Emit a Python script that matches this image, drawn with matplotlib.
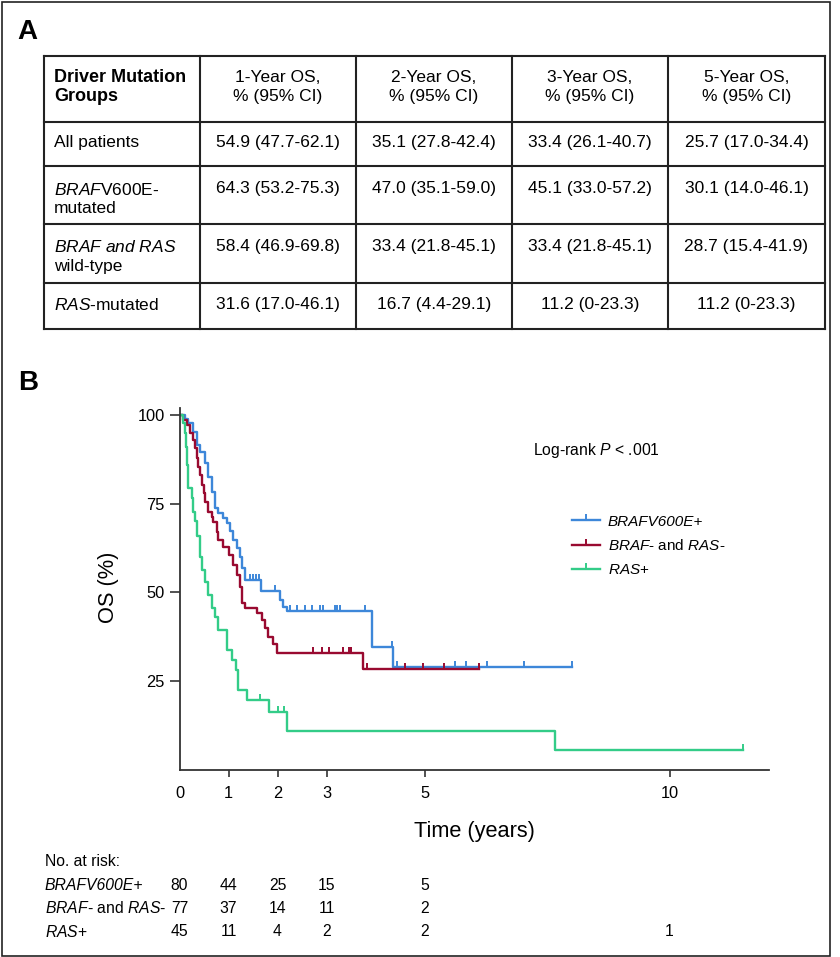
import numpy as np
import matplotlib
matplotlib.use('Agg')
import matplotlib.pyplot as plt
from matplotlib.lines import Line2D
from matplotlib.patches import Rectangle
from matplotlib import transforms

plt.rcParams['font.family'] = ['Liberation Sans', 'DejaVu Sans']
plt.rcParams['mathtext.fontset'] = 'custom'
plt.rcParams['mathtext.rm'] = 'Liberation Sans'
plt.rcParams['mathtext.it'] = 'Liberation Sans:italic'
plt.rcParams['mathtext.bf'] = 'Liberation Sans:bold'

# ---- panel A: table ----
header_first = 'Driver Mutation\nGroups'
col_headers = ['1-Year OS,\n% (95% CI)', '2-Year OS,\n% (95% CI)',
               '3-Year OS,\n% (95% CI)', '5-Year OS,\n% (95% CI)']
row_labels = ['All patients',
              '$\\mathit{BRAF}$V600E-\nmutated',
              '$\\mathit{BRAF\\ and\\ RAS}$\nwild-type',
              '$\\mathit{RAS}$-mutated']
table_values = [
    ['54.9 (47.7-62.1)', '35.1 (27.8-42.4)', '33.4 (26.1-40.7)', '25.7 (17.0-34.4)'],
    ['64.3 (53.2-75.3)', '47.0 (35.1-59.0)', '45.1 (33.0-57.2)', '30.1 (14.0-46.1)'],
    ['58.4 (46.9-69.8)', '33.4 (21.8-45.1)', '33.4 (21.8-45.1)', '28.7 (15.4-41.9)'],
    ['31.6 (17.0-46.1)', '16.7 (4.4-29.1)', '11.2 (0-23.3)', '11.2 (0-23.3)'],
]

# ---- panel B: Kaplan-Meier curves (time in years, OS in %) ----
braf_t = [0, 0.11, 0.18, 0.28, 0.35, 0.42, 0.52, 0.59, 0.66, 0.72, 0.79, 0.89,
          0.96, 1.03, 1.10, 1.17, 1.23, 1.27, 1.34, 1.66, 2.05, 2.12, 2.19, 3.92, 4.36]
braf_s = [100, 99.0, 97.8, 95.4, 91.7, 89.8, 86.5, 82.7, 78.5, 73.8, 72.4, 71.0,
          69.5, 67.5, 64.8, 62.5, 60.1, 56.8, 53.5, 50.5, 47.9, 46.0, 44.8, 34.5, 29.0]
braf_end = 8.0
braf_cens = [1.44, 1.50, 1.56, 1.62, 1.95, 2.26, 2.39, 2.56, 2.70, 2.87, 2.92,
             3.17, 3.22, 3.28, 3.79, 4.33, 4.43, 5.62, 5.85, 6.27, 7.03, 8.0]

wt_t = [0, 0.08, 0.15, 0.21, 0.28, 0.32, 0.35, 0.38, 0.42, 0.45, 0.49, 0.52, 0.59,
        0.66, 0.69, 0.76, 0.79, 0.89, 1.00, 1.10, 1.17, 1.23, 1.27, 1.34, 1.58,
        1.68, 1.74, 1.81, 1.91, 1.98, 3.74]
wt_s = [100, 98.7, 97.4, 95.0, 93.1, 90.7, 87.9, 85.5, 83.2, 80.4, 78.0, 75.6, 72.8,
        71.4, 70.0, 67.2, 64.8, 62.9, 60.6, 57.8, 54.9, 51.6, 46.9, 45.5, 44.1,
        42.2, 39.9, 37.4, 35.4, 33.0, 28.3]
wt_end = 6.11
wt_cens = [2.73, 2.90, 3.06, 3.33, 3.45, 3.49, 3.51, 3.83, 4.60, 4.96, 5.40, 6.11]

ras_t = [0, 0.08, 0.11, 0.13, 0.15, 0.18, 0.25, 0.28, 0.32, 0.35, 0.42, 0.45, 0.52,
         0.59, 0.66, 0.72, 0.79, 0.96, 1.07, 1.15, 1.20, 1.38, 1.83, 2.19, 7.66]
ras_s = [100, 97.8, 95.0, 91.0, 86.0, 79.5, 76.6, 72.8, 70.2, 66.0, 60.1, 56.4, 53.1,
         49.3, 45.5, 43.0, 39.5, 33.8, 30.9, 28.1, 22.5, 19.6, 16.3, 11.0, 5.4]
ras_end = 11.49
ras_cens = [1.64, 2.02, 2.13, 11.49]

group_names = ['BRAFV600E+', '$\\mathit{BRAF}$- and $\\mathit{RAS}$-', '$\\mathit{RAS}$+']
group_italic = [True, False, False]
group_colors = ['#3d87d9', '#990a30', '#33cc88']

risk_times = [0, 1, 2, 3, 5, 10]
risk_braf = [80, 44, 25, 15, 5, None]
risk_wt = [77, 37, 14, 11, 2, None]
risk_ras = [45, 11, 4, 2, 2, 1]

W, H = 840, 957
fig = plt.figure(figsize=(W / 100, H / 100), dpi=100)

# background axes in pixel coordinates for table, border and labels
bg = fig.add_axes([0, 0, 1, 1], zorder=0)
bg.set_xlim(0, W)
bg.set_ylim(H, 0)
bg.axis('off')

bg.add_patch(Rectangle((1.5, 1.5), 828, 954, fill=False, ec='#222222', lw=1.2))
bg.text(17, 32, 'A', fontsize=20, fontweight='bold', va='center', ha='left')
bg.text(18, 383, 'B', fontsize=20, fontweight='bold', va='center', ha='left')

col_x = [44, 200, 356, 512, 668, 825]
row_y = [55.7, 122.3, 166, 224.3, 283.3, 329.3]
for y in row_y:
    bg.plot([col_x[0], col_x[-1]], [y, y], color='#222222', lw=1.5, solid_capstyle='projecting')
for x in col_x:
    bg.plot([x, x], [row_y[0], row_y[-1]], color='#222222', lw=1.5, solid_capstyle='projecting')

fs_tab = 12.5
bg.text(54, 87, header_first, fontsize=13, fontweight='bold', ha='left', va='center',
        linespacing=1.22)
for j, h in enumerate(col_headers):
    bg.text((col_x[j + 1] + col_x[j + 2]) / 2, 87, h, fontsize=fs_tab, ha='center',
            va='center', linespacing=1.25)

first_line_y = [142, 188.5, 246, 305]
for i, lab in enumerate(row_labels):
    nlines = lab.count('\n') + 1
    yc = first_line_y[i] + (nlines - 1) * 10.5
    bg.text(54, yc, lab, fontsize=fs_tab, ha='left', va='center', linespacing=1.25)
    for j, v in enumerate(table_values[i]):
        bg.text((col_x[j + 1] + col_x[j + 2]) / 2, first_line_y[i], v, fontsize=fs_tab,
                ha='center', va='center')

# ---- KM plot ----
ax = fig.add_axes([179.5 / W, (H - 769.5) / H, 589.5 / W, 361.1 / H], zorder=1)
ax.patch.set_alpha(0)

curves = [(braf_t, braf_s, braf_end, braf_cens),
          (wt_t, wt_s, wt_end, wt_cens),
          (ras_t, ras_s, ras_end, ras_cens)]
for (t, s, end, cens), col in zip(curves, group_colors):
    tt = np.array(t + [end])
    ss = np.array(s + [s[-1]])
    ax.step(tt, ss, where='post', color=col, lw=1.7)
    cy = [s[np.searchsorted(t, c, side='right') - 1] for c in cens]
    ax.plot(cens, cy, linestyle='none', marker=2, ms=4.5, mew=1.4, color=col)

ax.set_xlim(0, 12.03)
ax.set_ylim(0, 102)
ax.set_xticks([0, 1, 2, 3, 5, 10])
ax.set_yticks([25, 50, 75, 100])
for sp in ['top', 'right']:
    ax.spines[sp].set_visible(False)
for sp in ['left', 'bottom']:
    ax.spines[sp].set_color('#333333')
    ax.spines[sp].set_linewidth(1.3)
ax.tick_params(axis='y', length=7, width=1.2, color='#333333', pad=3.5, labelsize=11.8)
ax.tick_params(axis='x', length=5, width=1.2, color='#333333', pad=7, labelsize=11.8)
ax.xaxis.get_major_ticks()[0].tick1line.set_visible(False)

ax.set_xlabel('Time (years)', fontsize=15.7)
ax.xaxis.set_label_coords(0.5, -0.172)
ax.xaxis.label.set_va('center')
ax.set_ylabel('OS (%)', fontsize=15.7)
ax.yaxis.set_label_coords(-0.121, 0.505)
ax.yaxis.label.set_va('center')

bg.text(533, 450, 'Log-rank $\\mathit{P}$ < .001', fontsize=11.3, ha='left', va='center')

handles = [Line2D([], [], color=c, lw=1.7, marker=2, ms=4.5, mew=1.4) for c in group_colors]
leg = fig.legend(handles, group_names, loc='upper left', bbox_to_anchor=(572 / W, 1 - 514.5 / H),
                 bbox_transform=fig.transFigure, frameon=False, fontsize=11, numpoints=1,
                 handlelength=1.8, handletextpad=0.55, labelspacing=0.65, borderpad=0,
                 borderaxespad=0)
for txt, it in zip(leg.get_texts(), group_italic):
    if it:
        txt.set_style('italic')

# ---- number at risk ----
risk_tr = transforms.blended_transform_factory(ax.transData, bg.transData)
bg.text(45, 862, 'No. at risk:', fontsize=11.3, ha='left', va='center')
risk_rows = [risk_braf, risk_wt, risk_ras]
risk_y = [885, 908.3, 931.7]
for name, it, counts, y in zip(group_names, group_italic, risk_rows, risk_y):
    bg.text(45, y, name, fontsize=11.3, ha='left', va='center',
            style='italic' if it else 'normal')
    for tm, n in zip(risk_times, counts):
        if n is not None:
            ax.text(tm, y, str(n), transform=risk_tr, fontsize=11.3, ha='center',
                    va='center', clip_on=False)

fig.savefig('out.png', dpi=100)
